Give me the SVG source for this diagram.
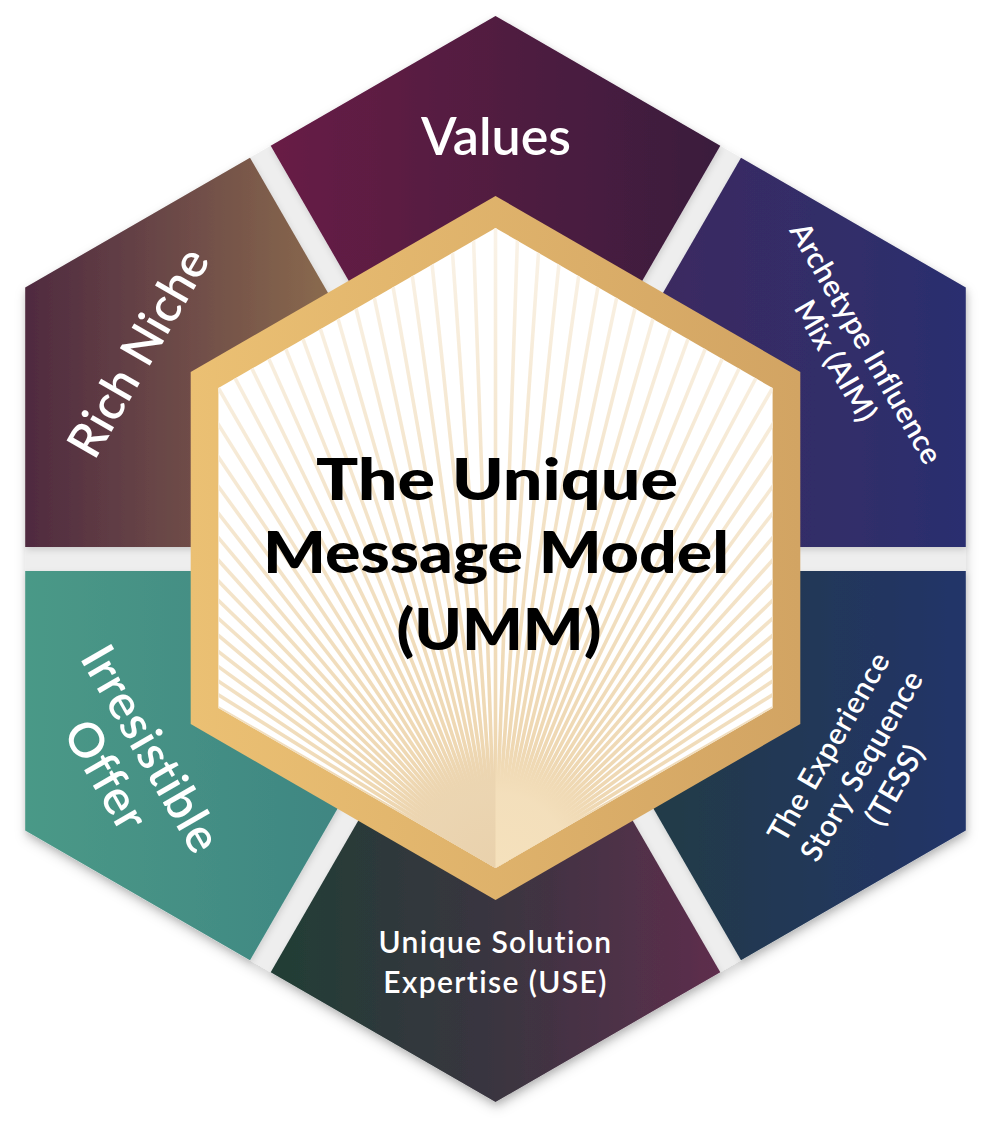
<svg xmlns="http://www.w3.org/2000/svg" xmlns:xlink="http://www.w3.org/1999/xlink" width="1002" height="1146" viewBox="0 0 1002 1146">
<style>
.lbl{font-family:Lato,"Open Sans","Liberation Sans",sans-serif;fill:#ffffff;font-weight:600;text-anchor:middle}
.title{font-family:Lato,"Liberation Sans",sans-serif;font-weight:900;fill:#000;text-anchor:middle;font-size:58px}
.seg{filter:url(#segShadow)}
</style>
<defs>
<filter id="outerShadow" x="-10%" y="-10%" width="120%" height="125%">
<feDropShadow dx="1" dy="6" stdDeviation="6" flood-color="#000" flood-opacity="0.18"/>
</filter>
<filter id="segShadow" x="-10%" y="-10%" width="120%" height="125%">
<feDropShadow dx="1" dy="3" stdDeviation="3" flood-color="#000" flood-opacity="0.14"/>
</filter>
<linearGradient id="gValues" gradientUnits="userSpaceOnUse" x1="271" y1="0" x2="720" y2="0"><stop offset="0" stop-color="#681a45"/><stop offset="1" stop-color="#3a1a3d"/></linearGradient>
<linearGradient id="gAim" gradientUnits="userSpaceOnUse" x1="516" y1="0" x2="966" y2="0"><stop offset="0" stop-color="#44295a"/><stop offset="1" stop-color="#2a2f6f"/></linearGradient>
<linearGradient id="gTess" gradientUnits="userSpaceOnUse" x1="516" y1="0" x2="966" y2="0"><stop offset="0" stop-color="#203e38"/><stop offset="1" stop-color="#213469"/></linearGradient>
<linearGradient id="gUse" gradientUnits="userSpaceOnUse" x1="271" y1="0" x2="720" y2="0"><stop offset="0" stop-color="#213d35"/><stop offset="0.5" stop-color="#3a3540"/><stop offset="1" stop-color="#5e2d4d"/></linearGradient>
<linearGradient id="gOffer" gradientUnits="userSpaceOnUse" x1="25" y1="0" x2="475" y2="0"><stop offset="0" stop-color="#4a9987"/><stop offset="1" stop-color="#3a7e80"/></linearGradient>
<linearGradient id="gNiche" gradientUnits="userSpaceOnUse" x1="25" y1="0" x2="330" y2="0"><stop offset="0" stop-color="#4f2a40"/><stop offset="1" stop-color="#8a6a4e"/></linearGradient>
<linearGradient id="gGold" gradientUnits="userSpaceOnUse" x1="191" y1="0" x2="800" y2="0"><stop offset="0" stop-color="#ebc073"/><stop offset="1" stop-color="#d2a463"/></linearGradient>
<linearGradient id="gRay" gradientUnits="userSpaceOnUse" x1="0" y1="868" x2="0" y2="228"><stop offset="0" stop-color="#ecd2a8"/><stop offset="0.5" stop-color="#f2e0c2"/><stop offset="1" stop-color="#faf3e8"/></linearGradient>
<radialGradient id="gGlowL" gradientUnits="userSpaceOnUse" cx="495.5" cy="868" r="125"><stop offset="0" stop-color="#e9d1ac" stop-opacity="1"/><stop offset="0.6" stop-color="#ebd5b2" stop-opacity="0.9"/><stop offset="1" stop-color="#ebd5b2" stop-opacity="0"/></radialGradient>
<radialGradient id="gGlowR" gradientUnits="userSpaceOnUse" cx="495.5" cy="868" r="125"><stop offset="0" stop-color="#f5e1bc" stop-opacity="1"/><stop offset="0.6" stop-color="#f4e0bd" stop-opacity="0.9"/><stop offset="1" stop-color="#f4e0bd" stop-opacity="0"/></radialGradient>
<clipPath id="innerClip"><polygon points="495.5,228 772.6,388 772.6,708 495.5,868 218.4,708 218.4,388"/></clipPath>
<line id="ray" x1="495.5" y1="868" x2="495.5" y2="150" stroke="url(#gRay)" stroke-width="3.6"/>
</defs>

<g id="segments">
<polygon id="backdrop" points="495.5,16 965.8,287.5 965.8,830.5 495.5,1102 25.2,830.5 25.2,287.5" fill="#eeeeee" filter="url(#outerShadow)"/>
<g id="node-values" class="seg"><polygon points="270.7,145.7 495.5,16 720.3,145.7 495.5,535" fill="url(#gValues)"/></g>
<g id="node-aim" class="seg"><polygon points="741,157.7 965.8,287.5 965.8,547 516.3,547" fill="url(#gAim)"/></g>
<g id="node-tess" class="seg"><polygon points="965.8,571 965.8,830.5 741,960.3 516.3,571" fill="url(#gTess)"/></g>
<g id="node-use" class="seg"><polygon points="720.3,972.3 495.5,1102 270.7,972.3 495.5,583" fill="url(#gUse)"/></g>
<g id="node-offer" class="seg"><polygon points="250,960.3 25.2,830.5 25.2,571 474.7,571" fill="url(#gOffer)"/></g>
<g id="node-niche" class="seg"><polygon points="25.2,547 25.2,287.5 250,157.7 474.7,547" fill="url(#gNiche)"/></g>
</g>

<g id="labels">
<text class="lbl" x="496" y="155" font-size="52">Values</text>
<text class="lbl" font-size="48" transform="translate(138,352) rotate(-60)" y="17" letter-spacing="0.5">Rich Niche</text>
<text class="lbl" font-size="30" transform="translate(851,352) rotate(60)" letter-spacing="0.3"><tspan x="0" y="-7">Archetype Influence</tspan><tspan x="0" y="28">Mix (AIM)</tspan></text>
<text class="lbl" font-size="30" transform="translate(862,766) rotate(-60)" letter-spacing="0.6"><tspan x="0" y="-28">The Experience</tspan><tspan x="0" y="10">Story Sequence</tspan><tspan x="0" y="48">(TESS)</tspan></text>
<text class="lbl" font-size="30" x="495.5" y="953" letter-spacing="1.4">Unique Solution</text>
<text class="lbl" font-size="30" x="495.5" y="993" letter-spacing="1.4">Expertise (USE)</text>
<text class="lbl" font-size="48" transform="translate(129,762) rotate(60)" letter-spacing="0.8"><tspan x="0" y="-9">Irresistible</tspan><tspan x="0" y="43">Offer</tspan></text>
</g>

<g id="node-center">
<polygon points="495.5,196 800.3,372 800.3,724 495.5,900 190.7,724 190.7,372" fill="url(#gGold)"/>
<polygon points="495.5,228 772.6,388 772.6,708 495.5,868 218.4,708 218.4,388" fill="#ffffff"/>
<g clip-path="url(#innerClip)">
<g id="rays">
<use xlink:href="#ray" transform="rotate(-60 495.5 868)"/><use xlink:href="#ray" transform="rotate(-58 495.5 868)"/><use xlink:href="#ray" transform="rotate(-56 495.5 868)"/><use xlink:href="#ray" transform="rotate(-54 495.5 868)"/><use xlink:href="#ray" transform="rotate(-52 495.5 868)"/><use xlink:href="#ray" transform="rotate(-50 495.5 868)"/><use xlink:href="#ray" transform="rotate(-48 495.5 868)"/><use xlink:href="#ray" transform="rotate(-46 495.5 868)"/><use xlink:href="#ray" transform="rotate(-44 495.5 868)"/><use xlink:href="#ray" transform="rotate(-42 495.5 868)"/>
<use xlink:href="#ray" transform="rotate(-40 495.5 868)"/><use xlink:href="#ray" transform="rotate(-38 495.5 868)"/><use xlink:href="#ray" transform="rotate(-36 495.5 868)"/><use xlink:href="#ray" transform="rotate(-34 495.5 868)"/><use xlink:href="#ray" transform="rotate(-32 495.5 868)"/><use xlink:href="#ray" transform="rotate(-30 495.5 868)"/><use xlink:href="#ray" transform="rotate(-28 495.5 868)"/><use xlink:href="#ray" transform="rotate(-26 495.5 868)"/><use xlink:href="#ray" transform="rotate(-24 495.5 868)"/><use xlink:href="#ray" transform="rotate(-22 495.5 868)"/>
<use xlink:href="#ray" transform="rotate(-20 495.5 868)"/><use xlink:href="#ray" transform="rotate(-18 495.5 868)"/><use xlink:href="#ray" transform="rotate(-16 495.5 868)"/><use xlink:href="#ray" transform="rotate(-14 495.5 868)"/><use xlink:href="#ray" transform="rotate(-12 495.5 868)"/><use xlink:href="#ray" transform="rotate(-10 495.5 868)"/><use xlink:href="#ray" transform="rotate(-8 495.5 868)"/><use xlink:href="#ray" transform="rotate(-6 495.5 868)"/><use xlink:href="#ray" transform="rotate(-4 495.5 868)"/><use xlink:href="#ray" transform="rotate(-2 495.5 868)"/>
<use xlink:href="#ray"/>
<use xlink:href="#ray" transform="rotate(2 495.5 868)"/><use xlink:href="#ray" transform="rotate(4 495.5 868)"/><use xlink:href="#ray" transform="rotate(6 495.5 868)"/><use xlink:href="#ray" transform="rotate(8 495.5 868)"/><use xlink:href="#ray" transform="rotate(10 495.5 868)"/><use xlink:href="#ray" transform="rotate(12 495.5 868)"/><use xlink:href="#ray" transform="rotate(14 495.5 868)"/><use xlink:href="#ray" transform="rotate(16 495.5 868)"/><use xlink:href="#ray" transform="rotate(18 495.5 868)"/><use xlink:href="#ray" transform="rotate(20 495.5 868)"/>
<use xlink:href="#ray" transform="rotate(22 495.5 868)"/><use xlink:href="#ray" transform="rotate(24 495.5 868)"/><use xlink:href="#ray" transform="rotate(26 495.5 868)"/><use xlink:href="#ray" transform="rotate(28 495.5 868)"/><use xlink:href="#ray" transform="rotate(30 495.5 868)"/><use xlink:href="#ray" transform="rotate(32 495.5 868)"/><use xlink:href="#ray" transform="rotate(34 495.5 868)"/><use xlink:href="#ray" transform="rotate(36 495.5 868)"/><use xlink:href="#ray" transform="rotate(38 495.5 868)"/><use xlink:href="#ray" transform="rotate(40 495.5 868)"/>
<use xlink:href="#ray" transform="rotate(42 495.5 868)"/><use xlink:href="#ray" transform="rotate(44 495.5 868)"/><use xlink:href="#ray" transform="rotate(46 495.5 868)"/><use xlink:href="#ray" transform="rotate(48 495.5 868)"/><use xlink:href="#ray" transform="rotate(50 495.5 868)"/><use xlink:href="#ray" transform="rotate(52 495.5 868)"/><use xlink:href="#ray" transform="rotate(54 495.5 868)"/><use xlink:href="#ray" transform="rotate(56 495.5 868)"/><use xlink:href="#ray" transform="rotate(58 495.5 868)"/><use xlink:href="#ray" transform="rotate(60 495.5 868)"/>
</g>
<rect x="370" y="740" width="125.5" height="130" fill="url(#gGlowL)"/>
<rect x="495.5" y="740" width="125.5" height="130" fill="url(#gGlowR)"/>
</g>
<text class="title" x="497" y="500" textLength="362" lengthAdjust="spacingAndGlyphs">The Unique</text>
<text class="title" x="496" y="573" textLength="466" lengthAdjust="spacingAndGlyphs">Message Model</text>
<text class="title" x="499" y="650" textLength="205" lengthAdjust="spacingAndGlyphs">(UMM)</text>
</g>
<g id="connectors"></g>
</svg>
